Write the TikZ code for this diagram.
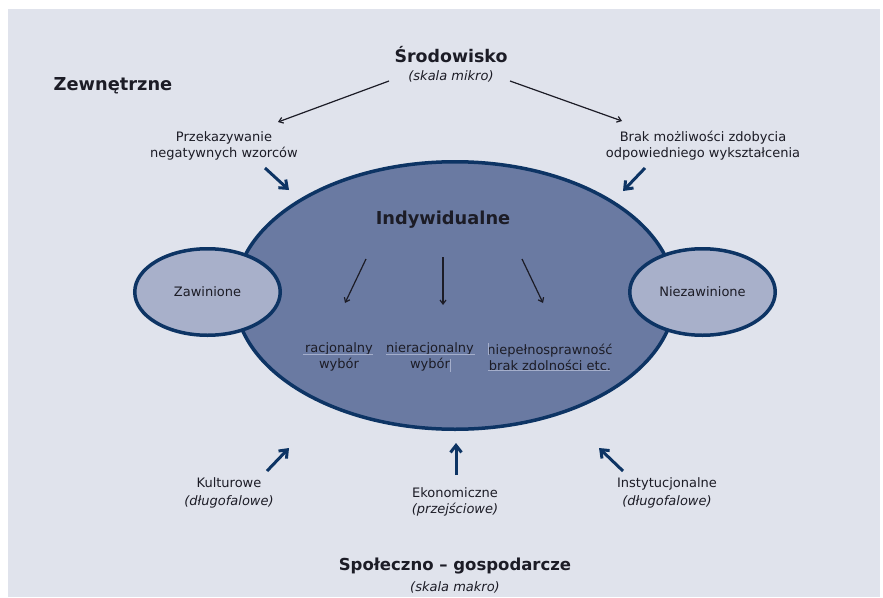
\documentclass[tikz,border=0pt]{standalone}
\usepackage{fontspec}
\setmainfont{DejaVu Sans}
\usetikzlibrary{arrows.meta,shapes.geometric}

\definecolor{bgpanel}{HTML}{E0E3EC}
\definecolor{navy}{HTML}{0D3464}
\definecolor{bigfill}{HTML}{6A7AA2}
\definecolor{smallfill}{HTML}{A8B0CA}
\definecolor{inktext}{HTML}{1C1C26}
\definecolor{rulecol}{HTML}{A4AECB}

\begin{document}
\begin{tikzpicture}[x=1pt, y=-1pt,
  every node/.style={text=inktext, inner sep=0pt, align=center},
  smalltext/.style={font=\fontsize{13}{16}\selectfont},
  subnote/.style={font=\fontsize{13}{16}\selectfont\itshape},
  bigtitle/.style={font=\fontsize{17.8}{20}\selectfont\bfseries},
  blob/.style={ellipse, draw=navy, line width=3.5pt},
  navyarrow/.style={-{Straight Barb[length=7pt, width=11pt]}, navy, line width=3pt},
  thinarrow/.style={-{Straight Barb[length=4pt, width=6pt]}, inktext, line width=1.2pt},
  faintrule/.style={rulecol, line width=0.8pt}]
  \useasboundingbox (0,0) rectangle (883,597);
  \fill[bgpanel] (8,9) rectangle (880,597);

  % Ellipses
  \node[blob, fill=bigfill, minimum width=440, minimum height=267.5] (indywblob) at (455,295.5) {};
  \node[blob, fill=smallfill, minimum width=145.5, minimum height=86.5, smalltext] (zaw) at (207.5,292) {Zawinione};
  \node[blob, fill=smallfill, minimum width=145.5, minimum height=86.5, smalltext] (niezaw) at (702.5,292) {Niezawinione};

  % Titles
  \node[bigtitle, anchor=base] (zewn) at (113,90) {Zewnętrzne};
  \node[bigtitle, anchor=base, font=\fontsize{17.4}{20}\selectfont\bfseries] (srod) at (451,62) {Środowisko};
  \node[subnote, anchor=base] (mikro) at (451,80) {(skala mikro)};
  \node[bigtitle, anchor=base] (indyw) at (443,224) {Indywidualne};
  \node[bigtitle, anchor=base, font=\fontsize{16.5}{20}\selectfont\bfseries] (spol) at (455,570) {Społeczno – gospodarcze};
  \node[subnote, anchor=base] (makro) at (455,591) {(skala makro)};

  % Labels
  \node[smalltext] (przek) at (224,146) {Przekazywanie\\negatywnych wzorców};
  \node[smalltext] (brak) at (703,146) {Brak możliwości zdobycia\\odpowiedniego wykształcenia};
  \node[smalltext] (racj) at (339,357) {racjonalny\\wybór};
  \node[smalltext] (nieracj) at (430,357) {nieracjonalny\\wybór};
  \node[smalltext] (niepeln) at (550,357) {niepełnosprawność\\brak zdolności etc.};
  \node[smalltext] (kult) at (229,493) {Kulturowe\\[2pt]\textit{(długofalowe)}};
  \node[smalltext] (ekon) at (455,502) {Ekonomiczne\\\textit{(przejściowe)}};
  \node[smalltext] (inst) at (667,493) {Instytucjonalne\\[2pt]\textit{(długofalowe)}};

  % Arrow end points
  \foreach \n/\x/\y in {mikL/389/81, mikR/510/81, przT/278/122, brakT/622/121,
    przA/265/168, przB/289/190, brakA/645/168, brakB/623/191,
    racA/366/259, racB/345/303, nrA/443/257, nrB/443/305, npA/522/259, npB/543/303,
    kultA/267/471, kultB/289/448, ekonA/456/475, ekonB/456/443, instA/623/471, instB/599/448}
    \coordinate (\n) at (\x,\y);

  % Arrows
  \draw[thinarrow] (mikL) -- (przT);
  \draw[thinarrow] (mikR) -- (brakT);
  \foreach \a/\b in {racA/racB, nrA/nrB, npA/npB}
    \draw[thinarrow] (\a) -- (\b);
  \foreach \a/\b in {przA/przB, brakA/brakB, kultA/kultB, ekonA/ekonB, instA/instB}
    \draw[navyarrow] (\a) -- (\b);

  % Faint rules under the inner labels
  \draw[faintrule] (303,354) -- (373,354);
  \draw[faintrule] (386,354) -- (475,354);
  \draw[faintrule] (450,359) -- (450,372);
  \draw[faintrule] (488,343) -- (488,355);
  \draw[faintrule] (488,370) -- (610,370);
\end{tikzpicture}
\end{document}
